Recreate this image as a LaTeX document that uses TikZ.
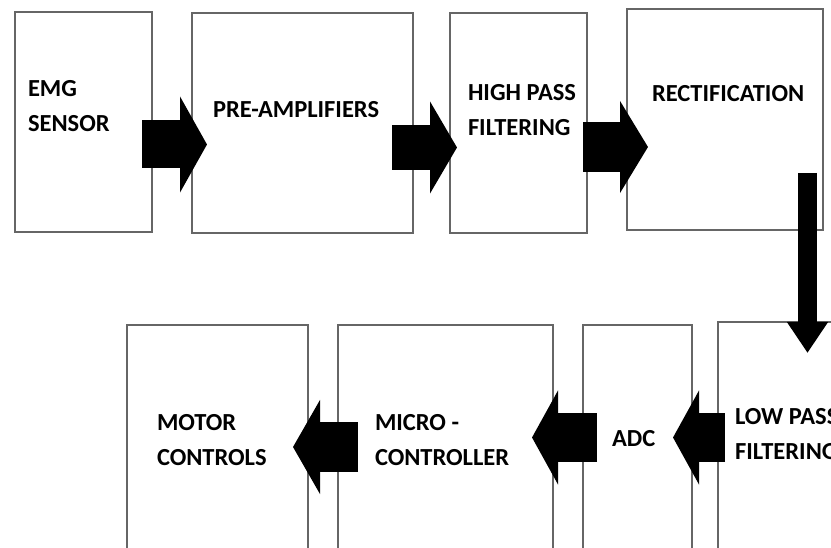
\documentclass[tikz,border=0pt]{standalone}
\usepackage{fontspec}
\setmainfont{Carlito}
\usetikzlibrary{arrows.meta}
\tikzset{
  blk/.style={draw=black!60, line width=1.3pt, rectangle, inner sep=0pt, outer sep=0pt},
  lbl/.style={anchor=base west, align=left, inner sep=0pt, outer sep=0pt,
    font=\fontsize{24.5}{35}\selectfont\bfseries, text=black},
  blockarr/.style n args={3}{line width=#1, -{Triangle[length=#2,width=#3]}}
}
\begin{document}
\begin{tikzpicture}[x=1pt,y=1pt]
\useasboundingbox (0,0) rectangle (831,548);
\clip (0,0) rectangle (831,548);
\fill[white] (0,0) rectangle (831,548);
% boxes
\node[blk, minimum width=137pt, minimum height=220pt] (emg)   at (83.5,426) {};
\node[blk, minimum width=221pt, minimum height=220pt] (pre)   at (302.5,425) {};
\node[blk, minimum width=137pt, minimum height=220pt] (hpf)   at (518.5,425) {};
\node[blk, minimum width=196pt, minimum height=221pt] (rect)  at (725,428.5) {};
\node[blk, minimum width=181pt, minimum height=245pt] (motor) at (217.5,100.5) {};
\node[blk, minimum width=215pt, minimum height=245pt] (micro) at (445.5,100.5) {};
\node[blk, minimum width=109pt, minimum height=245pt] (adc)   at (637.5,100.5) {};
\node[blk, minimum width=132pt, minimum height=248pt] (lpf)   at (784,102) {};
% labels (base anchor = baseline of the last line)
\node[lbl] (temg)   at (28,416)  {EMG\\SENSOR};
\node[lbl] (tpre)   at (213,430) {PRE-AMPLIFIERS};
\node[lbl] (thpf)   at (468,412) {HIGH PASS\\FILTERING};
\node[lbl] (trect)  at (652,446) {RECTIFICATION};
\node[lbl] (tmotor) at (157,82)  {MOTOR\\CONTROLS};
\node[lbl] (tmicro) at (375,82)  {MICRO -\\CONTROLLER};
\node[lbl] (tadc)   at (612,101) {ADC};
\node[lbl] (tlpf)   at (735,88)  {LOW PASS\\FILTERING};
% block arrows
\draw[blockarr={48pt}{27pt}{95pt}] ([xshift=-10pt,yshift=-22.5pt]emg.east) -- ([xshift=15pt,yshift=-21.5pt]pre.west);
\draw[blockarr={45pt}{27pt}{91pt}] ([xshift=-21pt,yshift=-24.5pt]pre.east) -- ([xshift=7pt,yshift=-24.5pt]hpf.west);
\draw[blockarr={50pt}{28pt}{91pt}] ([xshift=-4pt,yshift=-24pt]hpf.east) -- ([xshift=21pt,yshift=-27.5pt]rect.west);
\draw[blockarr={19pt}{31pt}{39pt}] ([xshift=-15.5pt,yshift=57pt]rect.south east) -- ([xshift=89.5pt,yshift=-31pt]lpf.north west);
\draw[blockarr={49pt}{26pt}{93pt}] ([xshift=7pt,yshift=8.5pt]lpf.west) -- ([xshift=-19pt,yshift=10pt]adc.east);
\draw[blockarr={49pt}{26pt}{93pt}] ([xshift=14pt,yshift=10pt]adc.west) -- ([xshift=-21pt,yshift=10pt]micro.east);
\draw[blockarr={50pt}{27pt}{93pt}] ([xshift=20pt,yshift=0.5pt]micro.west) -- ([xshift=-15pt,yshift=0.5pt]motor.east);
\end{tikzpicture}
\end{document}
